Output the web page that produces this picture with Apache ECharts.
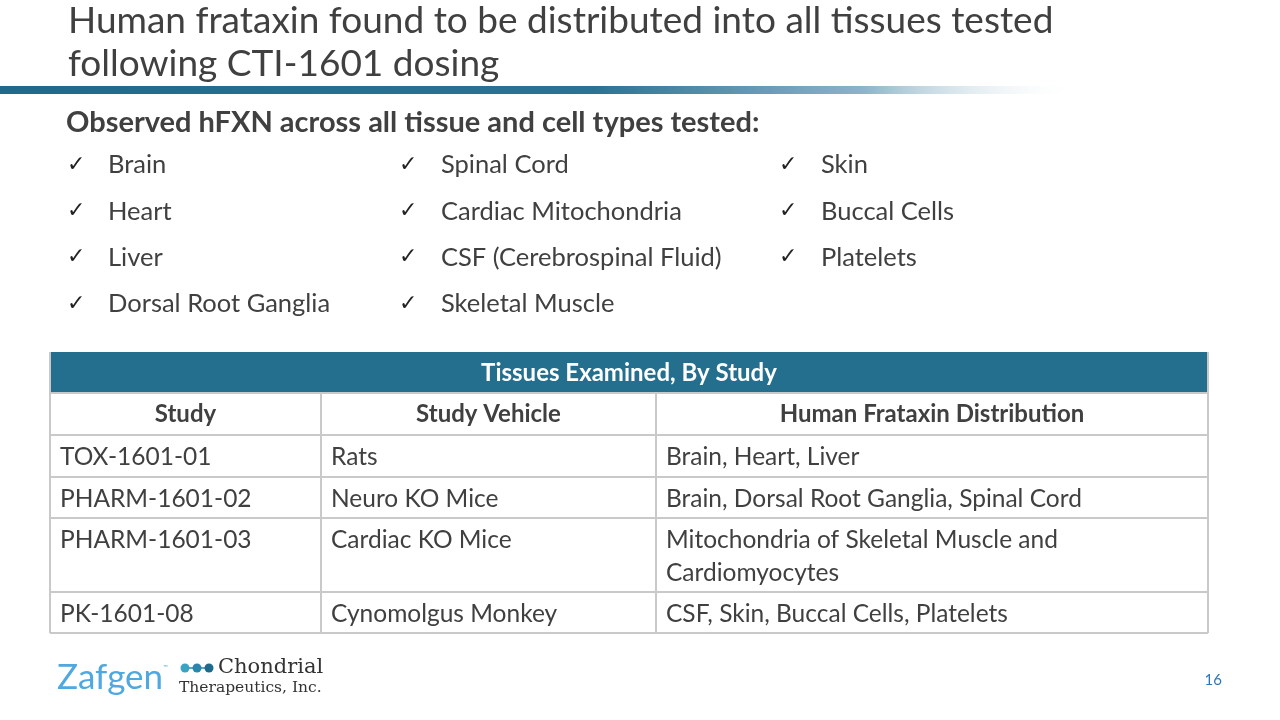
<!DOCTYPE html>
<html>
<head>
<meta charset="utf-8">
<script src="https://cdn.jsdelivr.net/npm/echarts@6/dist/echarts.min.js"></script>
<style>
  html, body { margin: 0; padding: 0; background: #fff; }
  #main { width: 1280px; height: 720px; }
</style>
</head>
<body>
<div id="main"></div>
<script>
// slide text
var titleLines = ['Human frataxin found to be distributed into all tissues tested', 'following CTI-1601 dosing'];
var subTitle = 'Observed hFXN across all tissue and cell types tested:';
var tissueCol1 = ['Brain', 'Heart', 'Liver', 'Dorsal Root Ganglia'];
var tissueCol2 = ['Spinal Cord', 'Cardiac Mitochondria', 'CSF (Cerebrospinal Fluid)', 'Skeletal Muscle'];
var tissueCol3 = ['Skin', 'Buccal Cells', 'Platelets'];

// table
var tableTitle = 'Tissues Examined, By Study';
var tableHeaders = ['Study', 'Study Vehicle', 'Human Frataxin Distribution'];
var studies = ['TOX-1601-01', 'PHARM-1601-02', 'PHARM-1601-03', 'PK-1601-08'];
var vehicles = ['Rats', 'Neuro KO Mice', 'Cardiac KO Mice', 'Cynomolgus Monkey'];
var distributions = ['Brain, Heart, Liver', 'Brain, Dorsal Root Ganglia, Spinal Cord',
  'Mitochondria of Skeletal Muscle and\nCardiomyocytes', 'CSF, Skin, Buccal Cells, Platelets'];
var pageNum = '16';

var FONT = 'Lato, "Open Sans", sans-serif';
var GRAY = '#404040';
var TEAL = '#246E8E';
var LINE = '#c9c9c9';

var g = [];

// title
titleLines.forEach(function (t, i) {
  g.push({ type: 'text', left: 68, top: 3 + i * 43,
    style: { text: t, fill: '#404040', font: '37px ' + FONT } });
});
// gradient band under the title
g.push({ type: 'rect', shape: { x: 0, y: 86, width: 1080, height: 8 },
  style: { fill: new echarts.graphic.LinearGradient(0, 0, 1, 0, [
    { offset: 0, color: '#1f6a8c' }, { offset: 0.55, color: '#2a7395' },
    { offset: 0.8, color: '#8db4c7' }, { offset: 1, color: 'rgba(255,255,255,0)' }]) } });

// subtitle
g.push({ type: 'text', x: 66, y: 123,
  style: { text: subTitle, fill: GRAY, font: 'bold 29px ' + FONT, verticalAlign: 'middle' } });

// checklists
var cols = [
  { items: tissueCol1, cx: 67, tx: 108 },
  { items: tissueCol2, cx: 399, tx: 441 },
  { items: tissueCol3, cx: 779, tx: 821 }
];
cols.forEach(function (c) {
  c.items.forEach(function (t, i) {
    var y = 165 + i * 46.3;
    g.push({ type: 'text', x: c.cx, y: y,
      style: { text: '\u2713', fill: '#222', font: 'bold 22px "DejaVu Sans"', verticalAlign: 'middle' } });
    g.push({ type: 'text', x: c.tx, y: y,
      style: { text: t, fill: GRAY, font: '25.5px ' + FONT, verticalAlign: 'middle' } });
  });
});

// table geometry
var colX = [50, 321, 656, 1208];
var rowY = [352, 393, 435, 477, 518, 592, 633];
g.push({ type: 'rect', shape: { x: colX[0], y: rowY[0], width: colX[3] - colX[0], height: rowY[1] - rowY[0] },
  style: { fill: TEAL } });
g.push({ type: 'text', x: (colX[0] + colX[3]) / 2, y: (rowY[0] + rowY[1]) / 2 + 1,
  style: { text: tableTitle, fill: '#fff', font: 'bold 24px ' + FONT, align: 'center', verticalAlign: 'middle' } });
// grid lines
for (var r = 1; r < rowY.length; r++) {
  g.push({ type: 'line', shape: { x1: colX[0], y1: rowY[r], x2: colX[3], y2: rowY[r] },
    style: { stroke: LINE, lineWidth: 2 } });
}
colX.forEach(function (x, i) {
  var y1 = (i === 0 || i === 3) ? rowY[0] : rowY[1];
  g.push({ type: 'line', shape: { x1: x, y1: y1, x2: x, y2: rowY[6] },
    style: { stroke: LINE, lineWidth: 2 } });
});
// header row
tableHeaders.forEach(function (h, i) {
  g.push({ type: 'text', x: (colX[i] + colX[i + 1]) / 2, y: (rowY[1] + rowY[2]) / 2,
    style: { text: h, fill: GRAY, font: 'bold 24px ' + FONT, align: 'center', verticalAlign: 'middle' } });
});
// body rows
studies.forEach(function (s, i) {
  var top = rowY[i + 2] + 6;
  [s, vehicles[i], distributions[i]].forEach(function (txt, j) {
    g.push({ type: 'text', x: colX[j] + 10, y: top,
      style: { text: txt, fill: GRAY, font: '24.5px ' + FONT, lineHeight: 33 } });
  });
});

// logos
g.push({ type: 'text', x: 57, y: 678,
  style: { text: 'Zafgen', fill: '#4fa8df', font: '35px ' + FONT, verticalAlign: 'middle' } });
g.push({ type: 'text', x: 163, y: 664,
  style: { text: '\u2122', fill: '#4fa8df', font: '6px ' + FONT } });
['#3aa3c4', '#2a86ad', '#1f6a8c'].forEach(function (c, i) {
  g.push({ type: 'circle', shape: { cx: 185 + i * 12, cy: 668, r: 4.5 }, style: { fill: c } });
});
g.push({ type: 'line', shape: { x1: 185, y1: 668, x2: 209, y2: 668 }, style: { stroke: '#2a86ad', lineWidth: 1.5 }, z: -1 });
g.push({ type: 'text', x: 218, y: 668,
  style: { text: 'Chondrial', fill: '#333', font: '21px "DejaVu Serif"', verticalAlign: 'middle' } });
g.push({ type: 'text', x: 179, y: 688,
  style: { text: 'Therapeutics, Inc.', fill: '#333', font: '15.5px "DejaVu Serif"', verticalAlign: 'middle' } });

// page number
g.push({ type: 'text', x: 1222, y: 680,
  style: { text: pageNum, fill: '#2e75b6', font: '15px ' + FONT, align: 'right', verticalAlign: 'middle' } });

var chart = echarts.init(document.getElementById('main'));
chart.setOption({
  backgroundColor: '#ffffff',
  animation: false,
  graphic: { elements: g }
});
</script>
</body>
</html>
